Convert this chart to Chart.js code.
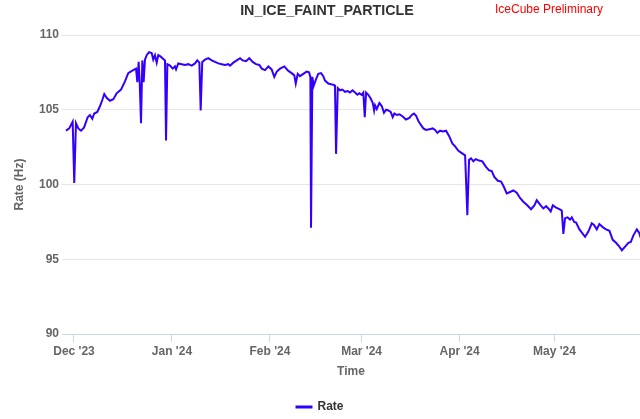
<!DOCTYPE html>
<html>
<head>
<meta charset="utf-8">
<script src="https://cdn.jsdelivr.net/npm/chart.js@4.4.1/dist/chart.umd.min.js"></script>
<style>
  html, body { margin: 0; padding: 0; background: #fff; }
</style>
</head>
<body>
<canvas id="grafica" width="640" height="419"></canvas>
<script>
// fechas de cada medición (UTC, hora)
const fechas = [
  '2023-11-28T11', '2023-11-29T12', '2023-11-30T14',
  '2023-12-01T02', '2023-12-01T15', '2023-12-02T09', '2023-12-03T05', '2023-12-04T04', '2023-12-05T08',
  '2023-12-06T01', '2023-12-06T19', '2023-12-07T10', '2023-12-08T09', '2023-12-09T06', '2023-12-09T23',
  '2023-12-10T14', '2023-12-11T08', '2023-12-12T09', '2023-12-13T11', '2023-12-14T12', '2023-12-15T21',
  '2023-12-17T03', '2023-12-18T04', '2023-12-19T08', '2023-12-20T15', '2023-12-21T01', '2023-12-21T11',
  '2023-12-21T19', '2023-12-22T05', '2023-12-22T15', '2023-12-23T01', '2023-12-23T11', '2023-12-24T00',
  '2023-12-24T18', '2023-12-25T14', '2023-12-26T02', '2023-12-26T15', '2023-12-27T04', '2023-12-27T16',
  '2023-12-28T11', '2023-12-29T06', '2023-12-29T19', '2023-12-30T03', '2023-12-30T13', '2023-12-31T09',
  '2024-01-01T06', '2024-01-01T23', '2024-01-02T07', '2024-01-03T00', '2024-01-04T02', '2024-01-05T03',
  '2024-01-06T04', '2024-01-07T06', '2024-01-08T07', '2024-01-09T00', '2024-01-09T16', '2024-01-10T02',
  '2024-01-10T14', '2024-01-11T11', '2024-01-12T12', '2024-01-13T14', '2024-01-14T15', '2024-01-15T16',
  '2024-01-16T18', '2024-01-17T19', '2024-01-18T20', '2024-01-19T09', '2024-01-20T10', '2024-01-21T12',
  '2024-01-22T13', '2024-01-23T09', '2024-01-24T10', '2024-01-25T11', '2024-01-26T13', '2024-01-27T14',
  '2024-01-28T15', '2024-01-29T10', '2024-01-30T11', '2024-01-31T12',
  '2024-02-01T13', '2024-02-02T09', '2024-02-03T04', '2024-02-04T05', '2024-02-05T13', '2024-02-06T20',
  '2024-02-07T21', '2024-02-08T17', '2024-02-09T04', '2024-02-09T19', '2024-02-10T12', '2024-02-11T13',
  '2024-02-12T15', '2024-02-13T09', '2024-02-13T19', '2024-02-14T00', '2024-02-14T10', '2024-02-14T20',
  '2024-02-15T12', '2024-02-16T07', '2024-02-17T04', '2024-02-17T21', '2024-02-18T10', '2024-02-19T11',
  '2024-02-20T08', '2024-02-21T09', '2024-02-21T14', '2024-02-21T22', '2024-02-22T11', '2024-02-23T04',
  '2024-02-23T22', '2024-02-24T18', '2024-02-25T15', '2024-02-26T08', '2024-02-27T03', '2024-02-27T22',
  '2024-02-28T16', '2024-02-29T07',
  '2024-03-01T01', '2024-03-01T13', '2024-03-02T00', '2024-03-02T10', '2024-03-03T03', '2024-03-03T21',
  '2024-03-04T13', '2024-03-04T23', '2024-03-05T06', '2024-03-05T19', '2024-03-06T15', '2024-03-07T09',
  '2024-03-08T02', '2024-03-08T18', '2024-03-09T11', '2024-03-10T05', '2024-03-10T20', '2024-03-11T09',
  '2024-03-12T03', '2024-03-12T23', '2024-03-14T00', '2024-03-15T01', '2024-03-16T03', '2024-03-16T21',
  '2024-03-17T14', '2024-03-18T06', '2024-03-18T23', '2024-03-19T17', '2024-03-20T13', '2024-03-21T09',
  '2024-03-22T11', '2024-03-23T12', '2024-03-24T06', '2024-03-24T23', '2024-03-25T20', '2024-03-26T16',
  '2024-03-27T17', '2024-03-28T16', '2024-03-29T17', '2024-03-30T14', '2024-03-31T15',
  '2024-04-01T17', '2024-04-02T18', '2024-04-03T11', '2024-04-04T00', '2024-04-04T15', '2024-04-05T09',
  '2024-04-06T03', '2024-04-07T04', '2024-04-08T05', '2024-04-09T07', '2024-04-10T08', '2024-04-11T04',
  '2024-04-12T00', '2024-04-13T02', '2024-04-14T03', '2024-04-15T00', '2024-04-15T22', '2024-04-16T23',
  '2024-04-18T00', '2024-04-19T02', '2024-04-20T03', '2024-04-21T04', '2024-04-22T06', '2024-04-23T15',
  '2024-04-24T16', '2024-04-25T10', '2024-04-26T11', '2024-04-27T12', '2024-04-28T09', '2024-04-29T02',
  '2024-04-29T20', '2024-04-30T12',
  '2024-05-01T13', '2024-05-02T14', '2024-05-03T08', '2024-05-03T20', '2024-05-04T09', '2024-05-05T03',
  '2024-05-05T23', '2024-05-06T12', '2024-05-07T06', '2024-05-07T21', '2024-05-08T22', '2024-05-10T00',
  '2024-05-10T17', '2024-05-11T18', '2024-05-12T20', '2024-05-13T13', '2024-05-14T10', '2024-05-15T05',
  '2024-05-16T07', '2024-05-17T08', '2024-05-18T10', '2024-05-19T11', '2024-05-20T12', '2024-05-21T13',
  '2024-05-22T08', '2024-05-23T09', '2024-05-24T10', '2024-05-25T04', '2024-05-26T00', '2024-05-27T02',
  '2024-05-27T21', '2024-05-28T06'
];

// tasa en Hz
const rate = [
  103.6, 103.75, 104.2,
  100.1, 104.1, 103.75, 103.6, 103.8, 104.5,
  104.65, 104.4, 104.75, 104.85, 105.25, 105.65,
  106.05, 105.8, 105.6, 105.7, 106.1, 106.35,
  106.9, 107.45, 107.6, 107.75, 106.85, 108.2,
  106.85, 104.1, 108.3, 106.85, 108.35, 108.65,
  108.85, 108.8, 108.35, 108.65, 108.15, 108.65,
  108.55, 108.4, 108.3, 102.95, 108.05, 107.95,
  107.75, 107.9, 107.7, 108.1, 108.05, 108.0,
  108.05, 107.95, 108.1, 108.3, 108.15, 104.95,
  108.2, 108.35, 108.45, 108.3, 108.2, 108.1,
  108.05, 108.0, 108.05, 107.95, 108.15, 108.3,
  108.45, 108.3, 108.25, 108.45, 108.2, 108.05,
  108.0, 107.75, 107.65, 107.9,
  107.7, 107.2, 107.55, 107.75, 107.9, 107.6,
  107.45, 107.3, 106.75, 107.4, 107.25, 107.4,
  107.55, 107.5, 107.2, 97.1, 107.2, 106.6,
  107.0, 107.4, 107.45, 107.25, 106.95, 106.75,
  106.7, 106.65, 106.5, 102.05, 106.45, 106.3,
  106.35, 106.2, 106.25, 106.15, 106.3, 106.15,
  106.0, 106.1,
  106.0, 106.15, 104.5, 106.15, 106.0, 105.75,
  105.45, 104.95, 105.3, 105.05, 105.45, 105.25,
  104.8, 105.0, 104.95, 104.85, 104.5, 104.75,
  104.65, 104.7, 104.55, 104.35, 104.45, 104.65,
  104.75, 104.6, 104.25, 104.0, 103.75, 103.65,
  103.7, 103.75, 103.65, 103.45, 103.6, 103.55,
  103.6, 103.25, 102.75, 102.55, 102.25,
  102.1, 101.95, 97.95, 101.65, 101.75, 101.55,
  101.7, 101.6, 101.55, 101.2, 100.95, 100.9,
  100.5, 100.25, 100.2, 99.85, 99.4, 99.5,
  99.6, 99.45, 99.1, 98.85, 98.65, 98.35,
  98.6, 98.95, 98.65, 98.4, 98.55, 98.4,
  98.2, 98.6,
  98.45, 98.35, 98.25, 96.7, 97.75, 97.8,
  97.65, 97.8, 97.5, 97.45, 97.0, 96.7,
  96.5, 96.85, 97.4, 97.3, 97.0, 97.35,
  97.15, 97.0, 96.9, 96.3, 96.1, 95.85,
  95.6, 95.85, 96.1, 96.15, 96.6, 97.0,
  96.75, 96.45
];

// marcas del eje x
const mesesTicks = ['2023-12-01', '2024-01-01', '2024-02-01', '2024-03-01', '2024-04-01', '2024-05-01'];
const etiquetasMes = ["Dec '23", "Jan '24", "Feb '24", "Mar '24", "Apr '24", "May '24"];

const aMs = f => new Date((f.length > 10 ? f + ':00:00' : f + 'T00:00:00') + 'Z').getTime();

const FUENTE = '"Liberation Sans", Arial, sans-serif';

// titulo y leyenda "preliminary"
const textosExtra = {
    id: 'textosExtra',
    afterDraw(chart) {
        const ctx = chart.ctx;
        ctx.save();
        ctx.textBaseline = 'middle';
        ctx.textAlign = 'center';
        ctx.fillStyle = '#333333';
        ctx.font = 'bold 14.3px ' + FUENTE;
        ctx.fillText('IN_ICE_FAINT_PARTICLE', 327, 11);
        ctx.textAlign = 'left';
        ctx.fillStyle = '#ff0000';
        ctx.font = '12px ' + FUENTE;
        ctx.fillText('IceCube Preliminary', 495, 10);
        ctx.restore();
    }
};

const puntos = fechas.map((f, i) => ({ x: aMs(f), y: rate[i] }));

new Chart(document.getElementById('grafica'), {
    type: 'line',
    data: {
        datasets: [{
            label: 'Rate',
            data: puntos,
            borderColor: '#3300ff',
            backgroundColor: '#3300ff',
            borderWidth: 2,
            pointRadius: 0,
            tension: 0
        }]
    },
    options: {
        responsive: false,
        animation: false,
        devicePixelRatio: 1,
        layout: { padding: { top: 35, left: 0, right: 0, bottom: -4 } },
        plugins: {
            legend: {
                position: 'bottom',
                labels: {
                    boxWidth: 15,
                    boxHeight: 1,
                    padding: 10,
                    color: '#333333',
                    font: { family: FUENTE, size: 12, weight: 'bold' }
                }
            },
            tooltip: { enabled: false }
        },
        scales: {
            x: {
                type: 'linear',
                min: aMs('2023-11-27T05'),
                max: aMs('2024-05-28T02'),
                afterFit: s => { s.height = 57; },
                afterBuildTicks: s => { s.ticks = mesesTicks.map(m => ({ value: aMs(m) })); },
                grid: { drawOnChartArea: false, drawTicks: true, tickLength: 8, color: '#ccd6eb' },
                border: { color: '#ccd6eb' },
                ticks: {
                    autoSkip: false,
                    maxRotation: 0,
                    padding: 2,
                    color: '#666666',
                    font: { family: FUENTE, size: 12, weight: 'bold' },
                    callback: (v, i) => etiquetasMes[i]
                },
                title: {
                    display: true,
                    text: 'Time',
                    color: '#666666',
                    font: { family: FUENTE, size: 12, weight: 'bold' },
                    padding: { top: 0, bottom: 12 }
                }
            },
            y: {
                min: 90,
                max: 110,
                afterFit: s => { s.width = 62; },
                grid: { color: '#e6e6e6', drawTicks: false },
                border: { display: false },
                ticks: {
                    stepSize: 5,
                    padding: 3,
                    color: '#666666',
                    font: { family: FUENTE, size: 12, weight: 'bold' }
                },
                title: {
                    display: true,
                    text: 'Rate (Hz)',
                    color: '#666666',
                    font: { family: FUENTE, size: 12, weight: 'bold' },
                    padding: { top: 12, bottom: 0 }
                }
            }
        }
    },
    plugins: [textosExtra]
});
</script>
</body>
</html>
